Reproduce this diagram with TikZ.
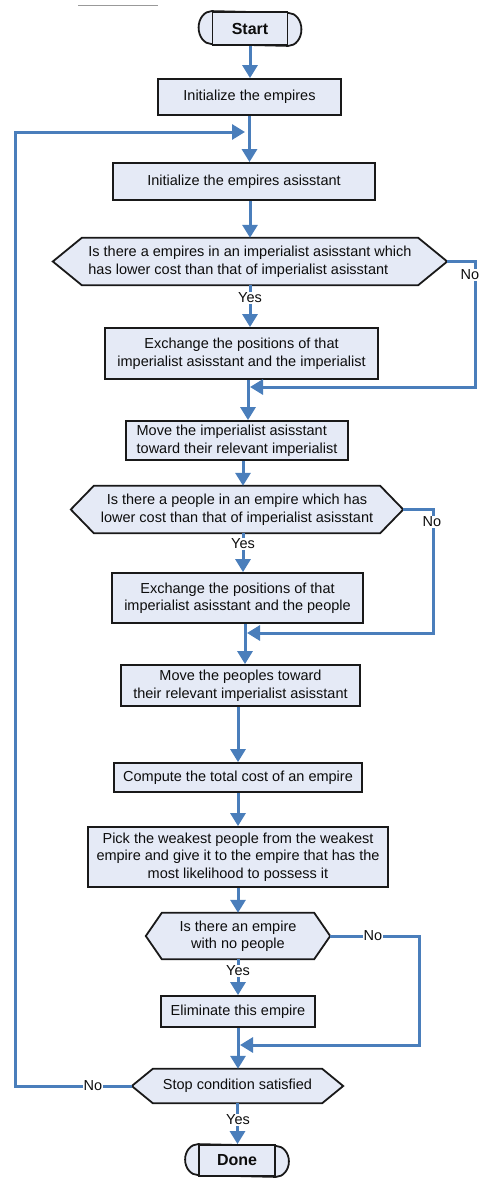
\documentclass[tikz,border=0pt]{standalone}
\usepackage{fontspec}
\setmainfont{Liberation Sans}
\usetikzlibrary{arrows.meta,backgrounds,calc}
\definecolor{flowblue}{RGB}{74,126,187}
\definecolor{boxfill}{RGB}{229,234,246}
\newcommand\drawhexagon[2]{%
  \begin{scope}[on background layer]
  \draw[shapeline] (#1.west) -- ([xshift=#2]#1.north west) -- ([xshift=-#2]#1.north east) -- (#1.east) -- ([xshift=-#2]#1.south east) -- ([xshift=#2]#1.south west) -- cycle;
  \end{scope}}
\newcommand\drawterminal[3]{%
  \begin{scope}[on background layer]
  \draw[shapeline] (#1.north west) arc[start angle=270,end angle=90,x radius=#2,y radius=#3] -- (#1.south east) arc[start angle=90,end angle=-90,x radius=#2,y radius=#3] -- cycle;
  \end{scope}}
\begin{document}
\begin{tikzpicture}[x=1pt,y=-1pt,
  txt/.style={font=\fontsize{14.5}{17.5}\selectfont, text=black!95},
  proc/.style={txt, draw=black!90, line width=1.8pt, fill=boxfill, inner sep=0pt, align=center},
  hexnode/.style={txt, inner sep=0pt, align=center},
  shapeline/.style={draw=black!90, line width=1.8pt, fill=boxfill},
  term/.style={draw=black!90, line width=1.8pt, fill=boxfill, inner sep=0pt, text=black!95, font=\fontsize{16}{19}\selectfont\bfseries},
  arr/.style={draw=flowblue, line width=3pt, -{Triangle[width=15pt,length=13pt]}},
  lbl/.style={txt, fill=white, inner sep=1pt}]
\useasboundingbox (0,0) rectangle (481,1178);
\draw[black!40, line width=1pt] (78,5) -- (158,5);

% nodes
\node[term, minimum width=75pt, minimum height=33pt] (start) at (250,28.5) {Start};
\drawterminal{start}{13}{16.5}
\node[proc, minimum width=183pt, minimum height=36pt] (init) at (249.5,97) {Initialize the empires};
\node[proc, minimum width=262pt, minimum height=37pt] (initA) at (244,181.5) {Initialize the empires asisstant};
\node[hexnode, minimum width=394pt, minimum height=47pt, align=left] (d1) at (250,261.5) {Is there a empires in an imperialist asisstant which\\has lower cost than that of imperialist asisstant};
\drawhexagon{d1}{29}
\node[proc, minimum width=273pt, minimum height=51pt] (ex1) at (241.5,353.5) {Exchange the positions of that\\imperialist asisstant and the imperialist};
\node[proc, minimum width=222pt, minimum height=39pt, align=left] (mv1) at (237,440.5) {Move the imperialist asisstant\\toward their relevant imperialist};
\node[hexnode, minimum width=332pt, minimum height=47pt] (d2) at (237,509.5) {Is there a people in an empire which has\\lower cost than that of imperialist asisstant};
\drawhexagon{d2}{23}
\node[proc, minimum width=251pt, minimum height=50pt] (ex2) at (237.5,598) {Exchange the positions of that\\imperialist asisstant and the people};
\node[proc, minimum width=239pt, minimum height=41pt] (mv2) at (240.5,685.5) {Move the peoples toward\\their relevant imperialist asisstant};
\node[proc, minimum width=248pt, minimum height=29pt] (comp) at (238,777.5) {Compute the total cost of an empire};
\node[proc, minimum width=300pt, minimum height=60pt] (pick) at (238,857) {Pick the weakest people from the weakest\\empire and give it to the empire that has the\\most likelihood to possess it};
\node[hexnode, minimum width=184pt, minimum height=46pt] (d3) at (238,936) {Is there an empire\\with no people};
\drawhexagon{d3}{16}
\node[proc, minimum width=154pt, minimum height=31pt] (elim) at (238,1011.5) {Eliminate this empire};
\node[hexnode, minimum width=211pt, minimum height=34pt] (stop) at (237.5,1086) {Stop condition satisfied};
\drawhexagon{stop}{21}
\node[term, minimum width=76pt, minimum height=31pt] (done) at (237,1160.5) {Done};
\drawterminal{done}{13}{15.5}

% junction coordinates
\coordinate (j0) at (245,132);
\coordinate (c0) at (15,132);
\coordinate (j1) at (248,387);
\coordinate (c1) at (475,387);
\coordinate (j2) at (245,633);
\coordinate (c2) at (433,633);
\coordinate (j3) at (238,1045);
\coordinate (c3) at (419,1045);

% main flow
\draw[arr] (start.south) -- (start.south |- init.north);
\draw[arr] (init.south) -- (init.south |- initA.north);
\draw[arr] (d1.north |- initA.south) -- (d1.north);
\draw[arr] (d1.south) -- (d1.south |- ex1.north);
\draw[arr] (ex1.south -| j1) -- (mv1.north -| j1);
\draw[arr] ([xshift=6pt]mv1.south) -- ([xshift=6pt]mv1.south |- d2.north);
\draw[arr] ([xshift=6pt]d2.south) -- ([xshift=6pt]d2.south |- ex2.north);
\draw[arr] (ex2.south -| j2) -- (mv2.north -| j2);
\draw[arr] (comp.north |- mv2.south) -- (comp.north);
\draw[arr] (comp.south) -- (comp.south |- pick.north);
\draw[arr] (pick.south) -- (pick.south |- d3.north);
\draw[arr] (d3.south) -- (d3.south |- elim.north);
\draw[arr] (elim.south) -- (elim.south |- stop.north);
\draw[arr] (stop.south) -- (stop.south |- done.north);

% branches
\draw[arr] (d1.east) -| (c1) -- ([xshift=2pt]j1);
\draw[arr] (d2.east) -| (c2) -- ([xshift=2pt]j2);
\draw[arr] (d3.east) -| (c3) -- ([xshift=2pt]j3);
\draw[arr] (stop.west) -| (c0) -- (j0);

% labels
\node[lbl] (y1) at (250,298) {Yes};
\node[lbl] (y2) at (243,544) {Yes};
\node[lbl] (y3) at (238,971) {Yes};
\node[lbl] (y4) at (238,1120) {Yes};
\node[lbl] (n1) at (470,275) {No};
\node[lbl] (n2) at (432,522) {No};
\node[lbl] (n3) at (373,936) {No};
\node[lbl] (n4) at (93,1086) {No};
\end{tikzpicture}
\end{document}
